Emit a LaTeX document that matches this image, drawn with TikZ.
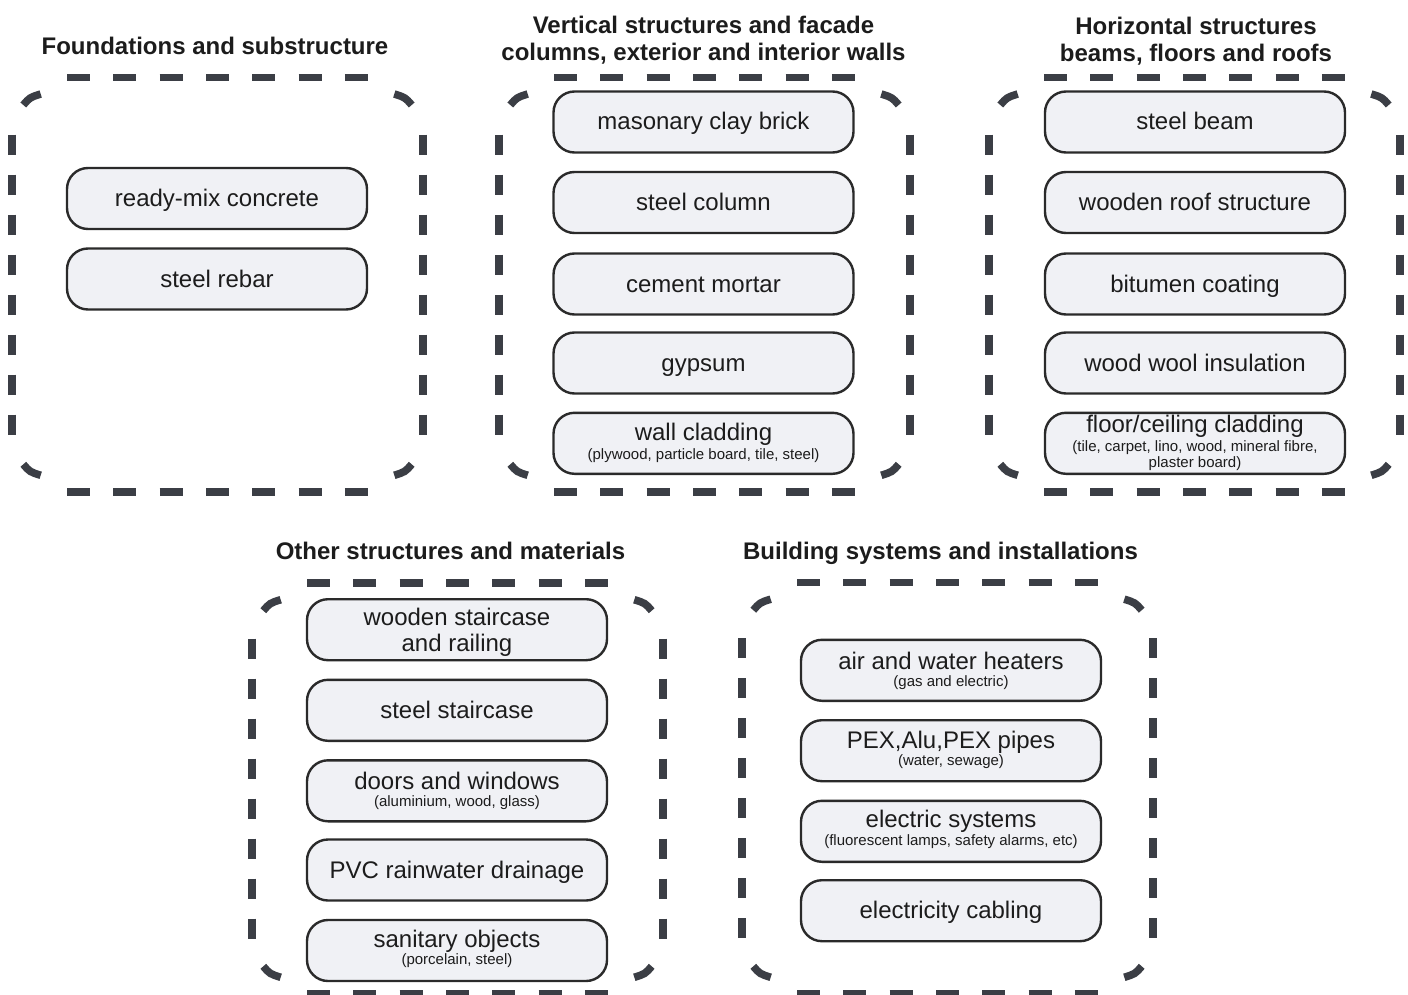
\documentclass[tikz,border=0pt]{standalone}
\usepackage{fontspec}
\setmainfont{Liberation Sans}
\usetikzlibrary{calc}
\definecolor{frameclr}{HTML}{3B3E45}
\definecolor{boxline}{HTML}{2A2A2A}
\definecolor{boxfill}{HTML}{F0F1F5}
\definecolor{txtclr}{HTML}{1C1C1C}
\tikzset{
  hdash/.style={draw=frameclr, line width=7.2pt, line cap=butt},
  vdash/.style={draw=frameclr, line width=8pt, line cap=butt},
  cdash/.style={draw=frameclr, line width=7.6pt, line cap=butt},
  mbox/.style={draw=boxline, fill=boxfill, line width=2.4pt, rounded corners=21pt,
    minimum width=300pt, minimum height=61pt, inner sep=0pt},
  maintxt/.style={anchor=base, inner sep=0pt, text=txtclr, font=\fontsize{24}{27}\selectfont},
  subtxt/.style={anchor=base, inner sep=0pt, text=txtclr, font=\fontsize{15}{17}\selectfont},
  ttl/.style={anchor=base, inner sep=0pt, text=txtclr, font=\fontsize{24}{27}\selectfont\bfseries},
}
\newcommand{\grpframe}[4]{%
  \pgfmathsetmacro{\gfcx}{(#1+#3)/2}%
  \pgfmathsetmacro{\gfcy}{(#2+#4)/2}%
  \foreach \k in {-3,...,3}{%
    \draw[hdash] ({\gfcx+\k*46.3-11.5},#2) -- ({\gfcx+\k*46.3+11.5},#2);
    \draw[hdash] ({\gfcx+\k*46.3-11.5},#4) -- ({\gfcx+\k*46.3+11.5},#4);
  }%
  \foreach \k in {-4,...,3}{%
    \draw[vdash] (#1,{\gfcy+(\k+0.5)*40-10}) -- (#1,{\gfcy+(\k+0.5)*40+10});
    \draw[vdash] (#3,{\gfcy+(\k+0.5)*40-10}) -- (#3,{\gfcy+(\k+0.5)*40+10});
  }%
  \draw[cdash] ({#1+11.3},{#2+27.7}) .. controls ({#1+17.9},{#2+20.1}) .. ({#1+28.7},{#2+16.7});
  \draw[cdash] ({#3-11.3},{#2+27.7}) .. controls ({#3-17.9},{#2+20.1}) .. ({#3-28.7},{#2+16.7});
  \draw[cdash] ({#1+11.3},{#4-27.7}) .. controls ({#1+17.9},{#4-20.1}) .. ({#1+28.7},{#4-16.7});
  \draw[cdash] ({#3-11.3},{#4-27.7}) .. controls ({#3-17.9},{#4-20.1}) .. ({#3-28.7},{#4-16.7});
}
\begin{document}
\begin{tikzpicture}[x=1pt, y=-1pt]
\fill[white] (0,0) rectangle (1408,995);
\useasboundingbox (0,0) rectangle (1408,995);

% group frames
\grpframe{12}{77.3}{423}{492}
\grpframe{499}{77.3}{910}{492}
\grpframe{989}{77.3}{1400}{492}
\grpframe{252}{583}{663}{994}
\grpframe{742}{582.5}{1153}{994}

% titles
\node[ttl] (ttl1) at (215,54.5) {Foundations and substructure};
\node[ttl] (ttl2a) at (703.5,33.5) {Vertical structures and facade};
\node[ttl] (ttl2b) at (703.5,60.5) {columns, exterior and interior walls};
\node[ttl] (ttl3a) at (1196,34.5) {Horizontal structures};
\node[ttl] (ttl3b) at (1196,61.5) {beams, floors and roofs};
\node[ttl] (ttl4) at (450.5,559) {Other structures and materials};
\node[ttl] (ttl5) at (940.5,559) {Building systems and installations};

% group 1
\node[mbox] (b11) at (217,198.5) {};
\node[maintxt] (t11) at (217,206.5) {ready-mix concrete};
\node[mbox] (b12) at (217,279) {};
\node[maintxt] (t12) at (217,287) {steel rebar};

% group 2
\node[mbox] (b21) at (703.5,122) {};
\node[maintxt] (t21) at (703.5,130) {masonary clay brick};
\node[mbox] (b22) at (703.5,202.5) {};
\node[maintxt] (t22) at (703.5,210.5) {steel column};
\node[mbox] (b23) at (703.5,284) {};
\node[maintxt] (t23) at (703.5,292) {cement mortar};
\node[mbox] (b24) at (703.5,363) {};
\node[maintxt] (t24) at (703.5,371) {gypsum};
\node[mbox] (b25) at (703.5,443.3) {};
\node[maintxt] (t25) at (703.5,440.3) {wall cladding};
\node[subtxt] (s25) at (703.5,459) {(plywood, particle board, tile, steel)};

% group 3
\node[mbox] (b31) at (1195,122) {};
\node[maintxt] (t31) at (1195,130) {steel beam};
\node[mbox] (b32) at (1195,202.5) {};
\node[maintxt] (t32) at (1195,210.5) {wooden roof structure};
\node[mbox] (b33) at (1195,284) {};
\node[maintxt] (t33) at (1195,292) {bitumen coating};
\node[mbox] (b34) at (1195,363) {};
\node[maintxt] (t34) at (1195,371) {wood wool insulation};
\node[mbox] (b35) at (1195,443.3) {};
\node[maintxt] (t35) at (1195,432) {floor/ceiling cladding};
\node[subtxt] (s35a) at (1195,451.5) {(tile, carpet, lino, wood, mineral fibre,};
\node[subtxt] (s35b) at (1195,467) {plaster board)};

% group 4
\node[mbox] (b41) at (457,629.7) {};
\node[maintxt] (t41a) at (457,625) {wooden staircase};
\node[maintxt] (t41b) at (457,651.7) {and railing};
\node[mbox] (b42) at (457,710.3) {};
\node[maintxt] (t42) at (457,718.3) {steel staircase};
\node[mbox] (b43) at (457,790.8) {};
\node[maintxt] (t43) at (457,789) {doors and windows};
\node[subtxt] (s43) at (457,806) {(aluminium, wood, glass)};
\node[mbox] (b44) at (457,870) {};
\node[maintxt] (t44) at (457,878) {PVC rainwater drainage};
\node[mbox] (b45) at (457,950.5) {};
\node[maintxt] (t45) at (457,947.7) {sanitary objects};
\node[subtxt] (s45) at (457,964) {(porcelain, steel)};

% group 5
\node[mbox] (b51) at (951,670.3) {};
\node[maintxt] (t51) at (951,669) {air and water heaters};
\node[subtxt] (s51) at (951,686.5) {(gas and electric)};
\node[mbox] (b52) at (951,750.7) {};
\node[maintxt] (t52) at (951,748.3) {PEX,Alu,PEX pipes};
\node[subtxt] (s52) at (951,765) {(water, sewage)};
\node[mbox] (b53) at (951,831.3) {};
\node[maintxt] (t53) at (951,827.7) {electric systems};
\node[subtxt] (s53) at (951,845) {(fluorescent lamps, safety alarms, etc)};
\node[mbox] (b54) at (951,910.7) {};
\node[maintxt] (t54) at (951,918.7) {electricity cabling};
\end{tikzpicture}
\end{document}
